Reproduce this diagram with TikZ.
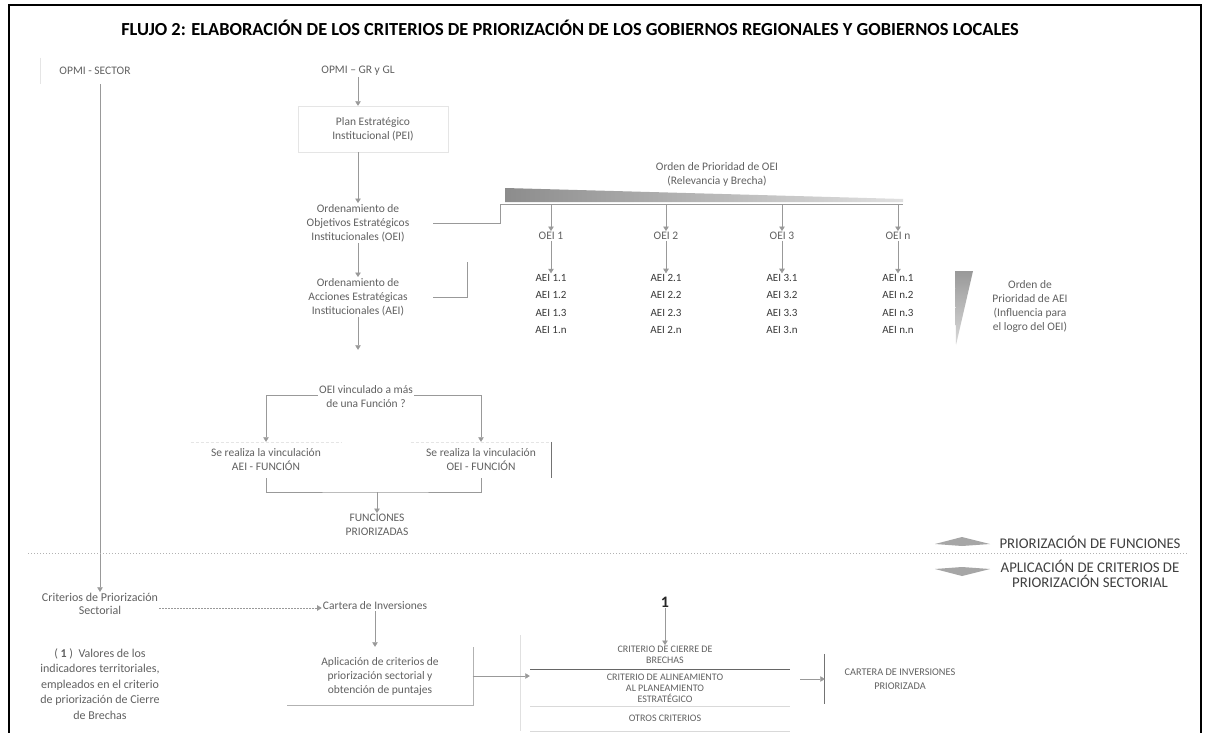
\documentclass[tikz,border=0pt]{standalone}
\usepackage{fontspec}
\setmainfont{Carlito}
\usetikzlibrary{arrows.meta,calc}
\begin{document}
\begin{tikzpicture}[x=1pt,y=-1pt,
  txt/.style={font=\fontsize{11.5}{14}\selectfont, text=black!62, align=center, inner sep=1pt},
  caps/.style={font=\fontsize{10}{11}\selectfont, text=black!62, align=center, inner sep=1pt},
  aeil/.style={font=\fontsize{11}{17.3}\selectfont, text=black!78, align=center, inner sep=1pt},
  ln/.style={draw=black!40, line width=0.6pt},
  arr/.style={draw=black!40, line width=0.6pt, -{Triangle[width=5.5pt,length=4.5pt]}},
  darr/.style={arr, dash pattern=on 2pt off 1pt}
]
\useasboundingbox (0,0) rectangle (1205,733);
\fill[white] (0,0) rectangle (1205,733);
% frame
\draw[line width=1.8pt] (9,740) -- (9,5) -- (1201,5) -- (1201,740);
\node[font=\fontsize{18.4}{20}\selectfont\bfseries, inner sep=0pt] (title) at (570,28)
  {FLUJO 2: ELABORACIÓN DE LOS CRITERIOS DE PRIORIZACIÓN DE LOS GOBIERNOS REGIONALES Y GOBIERNOS LOCALES};

% ---------- left column
\node[txt, minimum width=110pt, minimum height=26pt] (opmis) at (95,71) {OPMI - SECTOR};
\draw[black!10] (opmis.north west) -- (opmis.south west);
\node[txt, font=\fontsize{12}{13.5}\selectfont] (crit) at (100,604) {Criterios de Priorización\\Sectorial};
\node[txt, font=\fontsize{12}{15.5}\selectfont] (valores) at (100,684)
  {( \textbf{1} )\ \ Valores de los\\indicadores territoriales,\\empleados en el criterio\\de priorización de Cierre\\de Brechas};
\draw[arr] (opmis.south -| crit) -- (crit.north);

% ---------- main column
\node[txt] (opmig) at (358,71) {OPMI -- GR y GL};
\node[txt, minimum width=150pt, minimum height=46pt] (pei) at (373,129) {Plan Estratégico\\Institucional (PEI)};
\draw[black!10] (pei.north west) rectangle (pei.south east);
\node[txt, minimum width=150pt] (oei) at (358,223) {Ordenamiento de\\Objetivos Estratégicos\\Institucionales (OEI)};
\node[txt, minimum width=150pt] (aei) at (358,297) {Ordenamiento de\\Acciones Estratégicas\\Institucionales (AEI)};
\node[txt, minimum height=94pt] (dec) at (366,397) {OEI vinculado a más\\de una Función ?};

\draw[arr] (opmig) -- (opmig |- pei.north);
\draw[arr] (opmig |- pei.south) -- (oei.north -| opmig);
\draw[arr] (oei.south -| opmig) -- (aei.north -| opmig);
\draw[arr] (aei.south -| opmig) -- (dec.north -| opmig);

% OEI row
\foreach \i/\x/\t in {1/551/OEI 1, 2/666/OEI 2, 3/782/OEI 3, 4/898/OEI n}{
  \node[txt] (o\i) at (\x,236) {\t};
}
\node[aeil] (a1) at (551,304) {AEI 1.1\\AEI 1.2\\AEI 1.3\\AEI 1.n};
\node[aeil] (a2) at (666,304) {AEI 2.1\\AEI 2.2\\AEI 2.3\\AEI 2.n};
\node[aeil] (a3) at (782,304) {AEI 3.1\\AEI 3.2\\AEI 3.3\\AEI 3.n};
\node[aeil] (a4) at (898,304) {AEI n.1\\AEI n.2\\AEI n.3\\AEI n.n};

\coordinate (bus1) at (500,204);
\coordinate (bus2) at (903,204);
\draw[ln] (oei.east) -| (bus1) -- (bus2);
\foreach \i in {1,2,3,4}{
  \draw[arr] (o\i |- bus1) -- (o\i.north);
  \draw[arr] (o\i.south) -- (a\i.north);
}
\coordinate (abr) at (467,262);
\draw[ln] (aei.east) -| (abr);

% wedge OEI
\node[txt] (ordoei) at (717,174) {Orden de Prioridad de OEI\\(Relevancia y Brecha)};
\shade[left color=black!45, right color=black!12] (505,188) -- (903,199) -- (903,202) -- (505,202) -- cycle;
% wedge AEI
\shade[top color=black!40, bottom color=black!15] (955,271) -- (973,271) -- (956,345) -- cycle;
\node[txt] (ordaei) at (1030,306) {Orden de\\Prioridad de AEI\\(Influencia para\\el logro del OEI)};

% decision branches
\node[txt, minimum width=150pt, minimum height=36pt] (vaei) at (266,460) {Se realiza la vinculación\\AEI - FUNCIÓN};
\draw[black!10, dash pattern=on 3pt off 2pt] (vaei.north west) -- (vaei.north east);
\node[txt, minimum width=140pt, minimum height=36pt] (voei) at (481,460) {Se realiza la vinculación\\OEI - FUNCIÓN};
\draw[black!10, dash pattern=on 3pt off 2pt] (voei.north west) -- (voei.north east);
\draw[black!55, line width=0.8pt] (voei.north east) -- (voei.south east);
\draw[arr] (dec.west |- 0,395) -| (vaei.north);
\draw[arr] (dec.east |- 0,395) -| (voei.north);
\node[txt] (fun) at (377,525) {FUNCIONES\\PRIORIZADAS};
\coordinate (join) at (377,492);
\draw[ln] (vaei.south) |- (join) -| (voei.south);
\draw[arr] (join) -- (fun.north);

% separator
\draw[black!30, line width=0.6pt, dash pattern=on 1pt off 2pt] (28,553) -- (1188,553);
\fill[black!35] (935,544) -- (962,537) -- (990,544) -- (962,546) -- cycle;
\fill[black!35] (935,569) -- (962,576) -- (990,569) -- (962,567) -- cycle;
\node[font=\fontsize{14.8}{16}\selectfont, text=black!75, inner sep=1pt] (pf) at (1090,542) {PRIORIZACIÓN DE FUNCIONES};
\node[font=\fontsize{14.8}{15.5}\selectfont, text=black!75, align=center, inner sep=1pt] (ap) at (1090,574) {APLICACIÓN DE CRITERIOS DE\\PRIORIZACIÓN SECTORIAL};

% bottom middle
\node[txt] (cart) at (375,606) {Cartera de Inversiones};
\node[txt, minimum width=185pt, minimum height=58pt] (aplic) at (380,676) {Aplicación de criterios de\\priorización sectorial y\\obtención de puntajes};
\draw[black!30] (aplic.south west) -- (aplic.south east) -- (aplic.north east);
\draw[darr] (crit.east |- 0,608) -- (cart.west |- 0,608);
\draw[arr] (cart) -- (aplic.north -| cart);

% criteria stack
\node[font=\fontsize{16}{17}\selectfont\bfseries, text=black!85, inner sep=1pt] (one) at (665,602) {1};
\node[caps, minimum width=270pt] (c1) at (665,655) {CRITERIO DE CIERRE DE\\BRECHAS};
\node[caps, minimum width=270pt] (c2) at (665,688) {CRITERIO DE ALINEAMIENTO\\AL PLANEAMIENTO\\ESTRATÉGICO};
\node[caps, minimum width=270pt] (c3) at (665,718) {OTROS CRITERIOS};
\draw[arr] (one) -- (c1.north);
\draw[black!60, line width=0.7pt] (530,669) -- (790,669);
\draw[black!15] (530,706) -- (790,706);
\draw[black!15] (530,731) -- (790,731);
\draw[black!12] (520,635) -- (520,731);
\draw[arr] (aplic.east) -- (c2.west |- aplic.east);
\node[caps, font=\fontsize{10.3}{14}\selectfont, minimum width=150pt, minimum height=50pt] (cip) at (900,679) {CARTERA DE INVERSIONES\\PRIORIZADA};
\draw[black!55, line width=0.7pt] (cip.north west) -- (cip.south west);
\draw[arr] (c2.east |- cip.west) -- (cip.west);
\end{tikzpicture}
\end{document}
